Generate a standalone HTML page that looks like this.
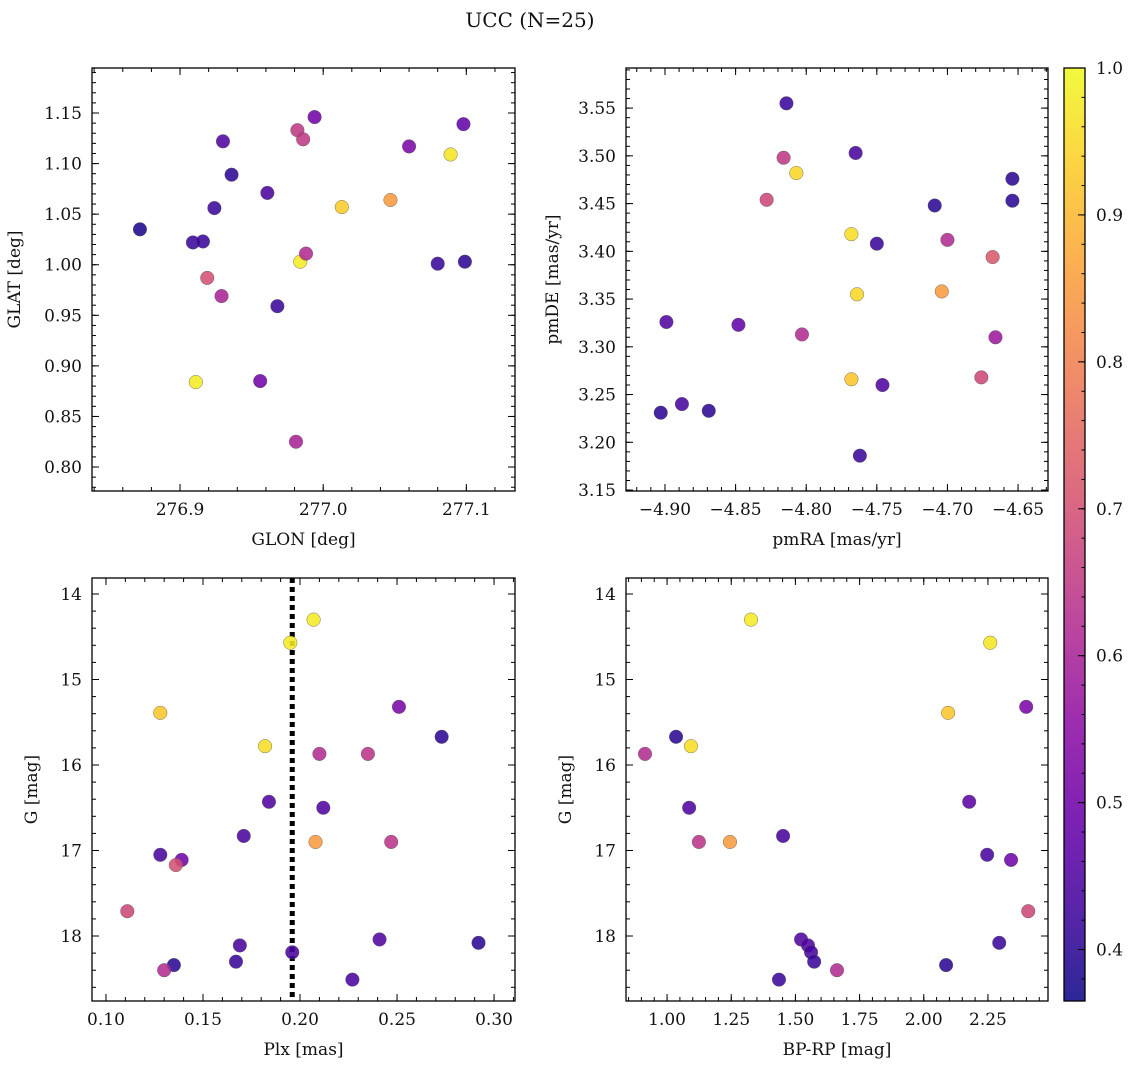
<!DOCTYPE html>
<html><head><meta charset="utf-8"><style>
body{margin:0;background:#fff;}
svg text{font-family:"DejaVu Serif","Liberation Serif",serif;fill:#111;}
</style></head><body>
<svg id="fig" width="1136" height="1068" viewBox="0 0 1136 1068" xmlns="http://www.w3.org/2000/svg">
<text x="530" y="27" font-size="20" text-anchor="middle">UCC (N=25)</text>
</svg>
<script>
// Panel 1: GLON / GLAT
const glon=[276.872,276.909,276.916,276.924,276.930,276.936,276.919,276.929,276.911,276.956,276.961,276.968,276.982,276.986,276.994,276.984,276.988,276.981,277.013,277.047,277.060,277.089,277.098,277.080,277.099];
const glat=[1.035,1.022,1.023,1.056,1.122,1.089,0.987,0.969,0.884,0.885,1.071,0.959,1.133,1.124,1.146,1.003,1.011,0.825,1.057,1.064,1.117,1.109,1.139,1.001,1.003];
const prob1=[0.38,0.42,0.42,0.42,0.45,0.40,0.70,0.60,0.98,0.50,0.44,0.42,0.65,0.65,0.50,0.98,0.62,0.60,0.93,0.85,0.52,0.97,0.48,0.42,0.40];
// Panel 2: pmRA / pmDE
const pmra=[-4.903,-4.888,-4.869,-4.899,-4.848,-4.828,-4.816,-4.807,-4.814,-4.803,-4.768,-4.764,-4.768,-4.762,-4.765,-4.750,-4.746,-4.709,-4.700,-4.704,-4.668,-4.666,-4.676,-4.654,-4.654];
const pmde=[3.231,3.240,3.233,3.326,3.323,3.454,3.498,3.482,3.555,3.313,3.418,3.355,3.266,3.186,3.503,3.408,3.260,3.448,3.412,3.358,3.394,3.310,3.268,3.476,3.453];
const prob2=[0.40,0.44,0.40,0.45,0.48,0.68,0.65,0.95,0.42,0.62,0.96,0.95,0.92,0.42,0.44,0.42,0.45,0.40,0.62,0.85,0.72,0.58,0.68,0.40,0.40];
// Panel 3: Plx / G
const plx=[0.207,0.195,0.128,0.251,0.273,0.182,0.210,0.235,0.184,0.212,0.171,0.208,0.247,0.128,0.139,0.136,0.111,0.169,0.241,0.292,0.196,0.135,0.167,0.130,0.227];
const gmag3=[14.30,14.57,15.39,15.32,15.67,15.78,15.87,15.87,16.43,16.50,16.83,16.90,16.90,17.05,17.11,17.17,17.71,18.11,18.04,18.08,18.19,18.34,18.30,18.40,18.51];
const prob3=[0.98,0.98,0.92,0.52,0.40,0.96,0.62,0.64,0.45,0.45,0.44,0.85,0.64,0.44,0.50,0.70,0.68,0.44,0.45,0.40,0.44,0.40,0.42,0.62,0.44];
const plxLine=0.196;
// Panel 4: BP-RP / G
const bprp=[1.327,2.259,2.095,2.399,1.035,1.093,0.914,2.177,1.086,1.452,1.124,1.245,2.247,2.340,2.407,1.522,1.549,1.561,1.573,2.294,2.087,1.436,1.662];
const gmag4=[14.30,14.57,15.39,15.32,15.67,15.78,15.87,16.43,16.50,16.83,16.90,16.90,17.05,17.11,17.71,18.04,18.11,18.19,18.30,18.08,18.34,18.51,18.40];
const prob4=[0.98,0.97,0.92,0.52,0.40,0.96,0.62,0.47,0.45,0.44,0.64,0.85,0.44,0.50,0.68,0.45,0.45,0.44,0.42,0.42,0.40,0.42,0.62];
// Tick labels
const ticks1x=["276.9","277.0","277.1"], ticks1y=["0.80","0.85","0.90","0.95","1.00","1.05","1.10","1.15"];
const ticks2x=["−4.90","−4.85","−4.80","−4.75","−4.70","−4.65"], ticks2y=["3.15","3.20","3.25","3.30","3.35","3.40","3.45","3.50","3.55"];
const ticks3x=["0.10","0.15","0.20","0.25","0.30"], ticksGy=["14","15","16","17","18"];
const ticks4x=["1.00","1.25","1.50","1.75","2.00","2.25"];
const cbTicks=["0.4","0.5","0.6","0.7","0.8","0.9","1.0"];

const NS="http://www.w3.org/2000/svg";
const svg=document.getElementById('fig');
const VMIN=0.365,VMAX=1.0;
const stops=["#0d0887","#41049d","#6a00a8","#8f0da4","#b12a90","#cc4778","#e16462","#f2844b","#fca636","#fcce25","#f0f921"];
function hx(h){return [1,3,5].map(i=>parseInt(h.substr(i,2),16));}
function plasma(t){t=Math.max(0,Math.min(1,t));const f=t*10,i=Math.min(9,Math.floor(f)),r=f-i;const a=hx(stops[i]),b=hx(stops[i+1]);return 'rgb('+a.map((v,k)=>Math.round(v+(b[k]-v)*r)).join(',')+')';}
function el(tag,attrs,parent){const e=document.createElementNS(NS,tag);for(const k in attrs)e.setAttribute(k,attrs[k]);(parent||svg).appendChild(e);return e;}

function panel(cfg){
  const g=el('g',{});
  
  
  const {x0,x1,y0,y1,xmin,xmax,ymin,ymax,inv}=cfg;
  const sx=v=>x0+(v-xmin)/(xmax-xmin)*(x1-x0);
  const sy=v=>inv? y0+(v-ymin)/(ymax-ymin)*(y1-y0) : y1-(v-ymin)/(ymax-ymin)*(y1-y0);
  function tickset(step,len,axis){
    const lo=axis==='x'?xmin:ymin, hi=axis==='x'?xmax:ymax;
    for(let v=Math.ceil(lo/step-1e-6)*step; v<=hi+1e-9; v+=step){
      if(axis==='x'){const p=sx(v);el('line',{x1:p,x2:p,y1:y1,y2:y1-len,stroke:'#000','stroke-width':1},g);el('line',{x1:p,x2:p,y1:y0,y2:y0+len,stroke:'#000','stroke-width':1},g);}
      else{const p=sy(v);el('line',{x1:x0,x2:x0+len,y1:p,y2:p,stroke:'#000','stroke-width':1},g);el('line',{x1:x1,x2:x1-len,y1:p,y2:p,stroke:'#000','stroke-width':1},g);}
    }
  }
  tickset(cfg.xminor,4,'x');tickset(cfg.xmajor,7,'x');
  tickset(cfg.yminor,4,'y');tickset(cfg.ymajor,7,'y');
  cfg.xlabels.forEach((s,i)=>{const v=cfg.xl0+i*cfg.xmajorL;const t=el('text',{x:sx(v),y:y1+24,'font-size':17,'text-anchor':'middle'},g);t.textContent=s;});
  cfg.ylabels.forEach((s,i)=>{const v=cfg.yl0+i*cfg.ymajorL;const t=el('text',{x:x0-10,y:sy(v)+6,'font-size':17,'text-anchor':'end'},g);t.textContent=s;});
  const xt=el('text',{x:(x0+x1)/2,y:y1+54,'font-size':17,'text-anchor':'middle'},g);xt.textContent=cfg.xtitle;
  
  const yx=x0-cfg.ytoff,ym=(y0+y1)/2;
  const yt=el('text',{x:yx,y:ym,'font-size':17,'text-anchor':'middle',transform:`rotate(-90 ${yx} ${ym})`},g);yt.textContent=cfg.ytitle;
  
  if(cfg.vline!==undefined){const l=el('line',{x1:sx(cfg.vline),x2:sx(cfg.vline),y1:y0,y2:y1,stroke:'#000','stroke-width':5,'stroke-dasharray':'5,4'},g);
    }
  cfg.xs.forEach((v,i)=>{const c=el('circle',{cx:sx(v),cy:sy(cfg.ys[i]),r:6.8,fill:plasma((cfg.cs[i]-VMIN)/(VMAX-VMIN)),'fill-opacity':0.87,stroke:'#555','stroke-width':0.4},g);
    });
  el('rect',{x:x0,y:y0,width:x1-x0,height:y1-y0,fill:'none',stroke:'#000','stroke-width':1.3},g);
}
panel({name:'panel-glon-glat',x0:92,x1:515,y0:68,y1:491,xmin:276.8385,xmax:277.134,ymin:0.7763,ymax:1.1945,
 xmajor:0.1,xminor:0.02,ymajor:0.05,yminor:0.01,xlabels:ticks1x,xl0:276.9,xmajorL:0.1,ylabels:ticks1y,yl0:0.80,ymajorL:0.05,
 xtitle:'GLON [deg]',ytitle:'GLAT [deg]',ytoff:72,xs:glon,ys:glat,cs:prob1});
panel({name:'panel-pmra-pmde',x0:626,x1:1048,y0:68,y1:491,xmin:-4.9276,xmax:-4.6288,ymin:3.149,ymax:3.592,
 xmajor:0.05,xminor:0.01,ymajor:0.05,yminor:0.01,xlabels:ticks2x,xl0:-4.90,xmajorL:0.05,ylabels:ticks2y,yl0:3.15,ymajorL:0.05,
 xtitle:'pmRA [mas/yr]',ytitle:'pmDE [mas/yr]',ytoff:68,xs:pmra,ys:pmde,cs:prob2});
panel({name:'panel-plx-g',x0:92,x1:515,y0:578,y1:1001,xmin:0.0928,xmax:0.3108,ymin:13.813,ymax:18.76,inv:true,
 xmajor:0.05,xminor:0.01,ymajor:1,yminor:0.2,xlabels:ticks3x,xl0:0.10,xmajorL:0.05,ylabels:ticksGy,yl0:14,ymajorL:1,
 xtitle:'Plx [mas]',ytitle:'G [mag]',ytoff:55,xs:plx,ys:gmag3,cs:prob3,vline:plxLine});
panel({name:'panel-bprp-g',x0:626,x1:1048,y0:578,y1:1001,xmin:0.840,xmax:2.484,ymin:13.813,ymax:18.76,inv:true,
 xmajor:0.25,xminor:0.05,ymajor:1,yminor:0.2,xlabels:ticks4x,xl0:1.00,xmajorL:0.25,ylabels:ticksGy,yl0:14,ymajorL:1,
 xtitle:'BP-RP [mag]',ytitle:'G [mag]',ytoff:55,xs:bprp,ys:gmag4,cs:prob4});

// colorbar
const cb=el('g',{});


const defs=el('defs',{},cb);
const lg=el('linearGradient',{id:'cbg',x1:0,y1:1,x2:0,y2:0},defs);
for(let i=0;i<=20;i++){el('stop',{offset:i/20,'stop-color':plasma(i/20),'stop-opacity':0.87},lg);}
const CX0=1064,CX1=1085,CY0=68,CY1=1001;
const cy=v=>CY1-(v-VMIN)/(VMAX-VMIN)*(CY1-CY0);
el('rect',{x:CX0,y:CY0,width:CX1-CX0,height:CY1-CY0,fill:'url(#cbg)'},cb);
for(let v=0.38;v<=1.0001;v+=0.02){el('line',{x1:CX1,x2:CX1-3.5,y1:cy(v),y2:cy(v),stroke:'#000','stroke-width':1},cb);}
cbTicks.forEach((s,i)=>{const v=0.4+i*0.1;el('line',{x1:CX1,x2:CX1-7,y1:cy(v),y2:cy(v),stroke:'#000','stroke-width':1},cb);
 const t=el('text',{x:CX1+11,y:cy(v)+6,'font-size':17},cb);t.textContent=s;});
el('rect',{x:CX0,y:CY0,width:CX1-CX0,height:CY1-CY0,fill:'none',stroke:'#000','stroke-width':1.3},cb);
</script>
</body></html>
